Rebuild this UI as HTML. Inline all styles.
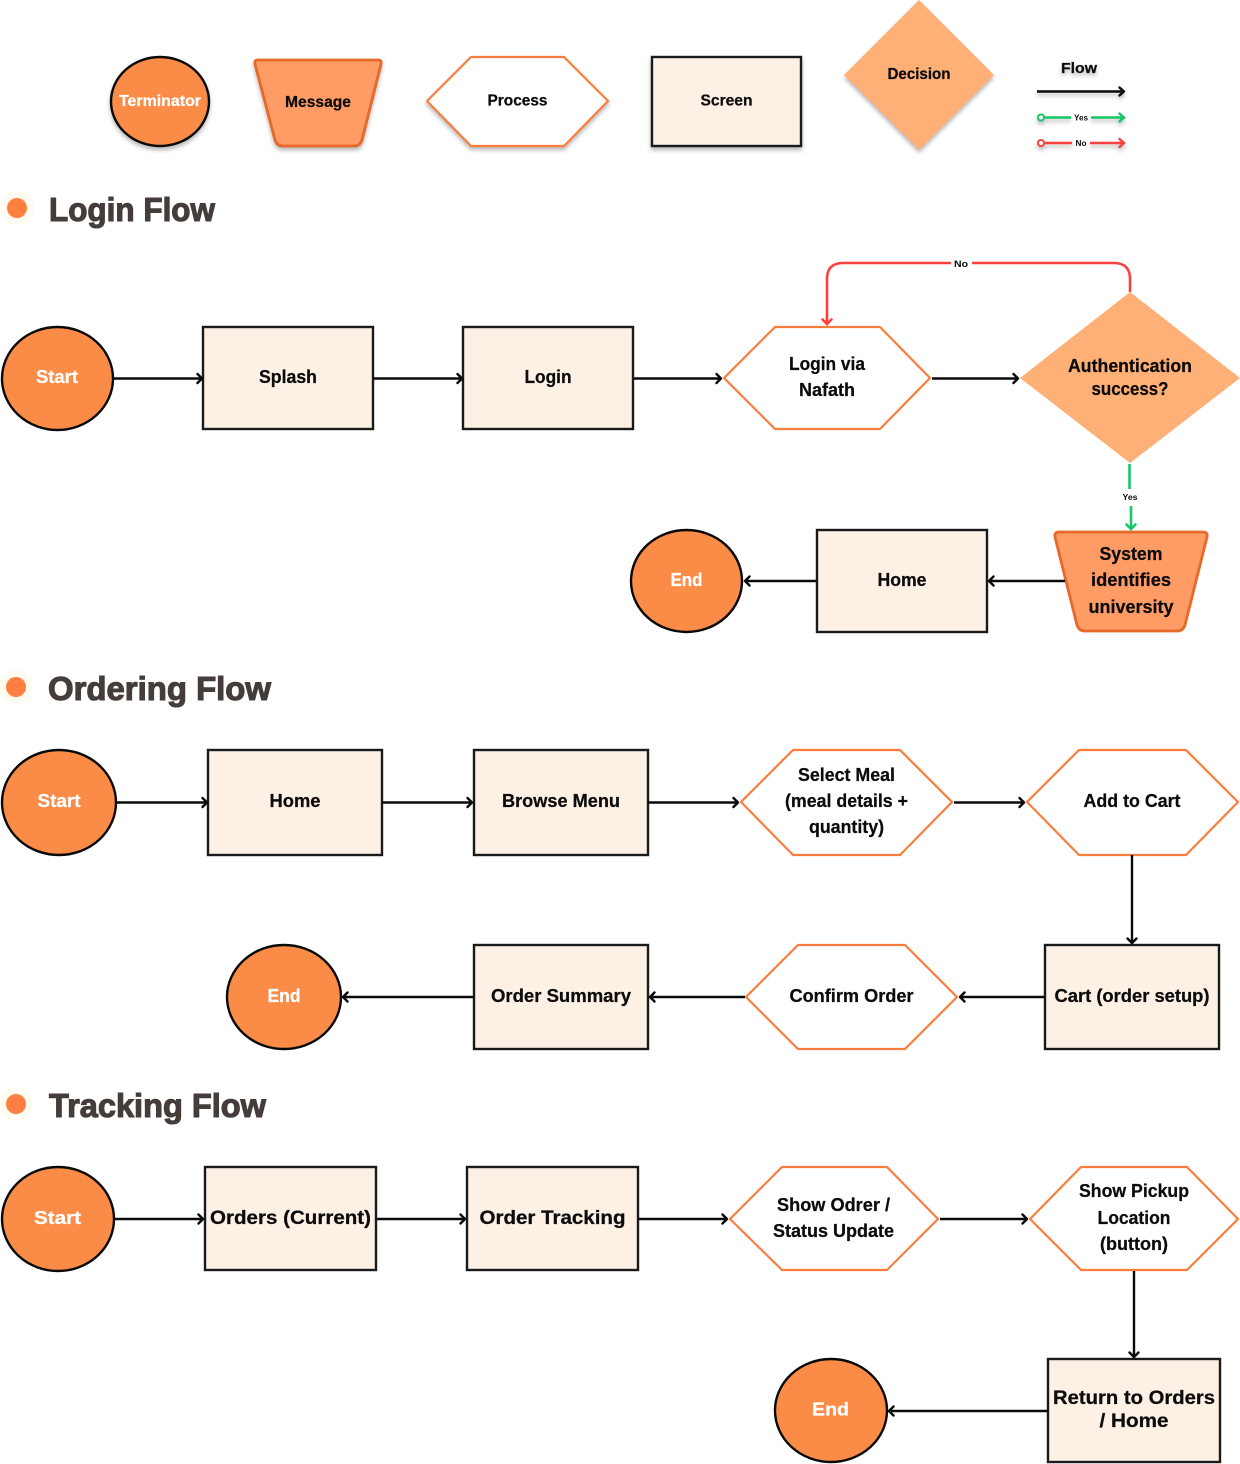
<!DOCTYPE html>
<html lang="en">
<head>
<meta charset="utf-8">
<title>User Flows</title>
<style>
html,body{margin:0;padding:0;background:#fff;}
svg{display:block;}
text{font-family:"Liberation Sans",sans-serif;font-weight:700;fill:#0c0c0c;text-anchor:middle;font-size:18px;stroke:#0c0c0c;stroke-width:.25px;}
.w{fill:#fff;stroke:#fff;}
.h{fill:#443d3a;stroke:#443d3a;stroke-width:1.1px;text-anchor:start;font-size:33px;}
.s{fill:#fdf0e4;stroke:#1a1a1a;stroke-width:2.4;}
.t{fill:#fa8c47;stroke:#0a0a0a;stroke-width:2.4;}
.p{fill:#fff;stroke:#fb7d3c;stroke-width:2.2;stroke-linejoin:round;}
.m{fill:#ff9c66;stroke:#e8682a;stroke-width:2.8;stroke-linejoin:round;}
.d{fill:#ffb077;}
.a{fill:none;stroke:#0a0a0a;stroke-width:2.4;}
.ah{fill:none;stroke:#0a0a0a;stroke-width:2.4;stroke-linecap:round;stroke-linejoin:round;}
.g{fill:none;stroke:#17c767;stroke-width:2.6;}
.r{fill:none;stroke:#fb4040;stroke-width:2.6;}
.halo{fill:#fffbf0;}
.dot{fill:#ff7f41;}
.sh{filter:drop-shadow(0 3px 2px rgba(0,0,0,.28));}
</style>
</head>
<body>
<svg width="1240" height="1464" viewBox="0 0 1240 1464" xmlns="http://www.w3.org/2000/svg">
<rect width="1240" height="1464" fill="#fff"/>

<!-- Legend -->
<g class="sh">
<ellipse class="t" cx="160" cy="101.500" rx="49" ry="44.500"/>
<path class="m" d="M258 60H378Q382 60 381 64L362 140Q360 146 354 146H283Q277 146 275 140L255 64Q254 60 258 60Z"/>
<polygon class="p" points="427,101 471,57 564,57 608,101 564,146 471,146"/>
<rect class="s" x="652" y="57" width="149" height="89"/>
<polygon class="d" points="919,0 994,75 919,150 844,75"/>
<text x="1079" y="73" style="font-size:15px" textLength="36" lengthAdjust="spacingAndGlyphs">Flow</text>
<path class="a" d="M1037 91.500H1123"/><path class="ah" d="M1119.500 87.500L1124 91.500L1119.500 95.500"/>
<circle cx="1041" cy="117.500" r="3" fill="#fff" stroke="#17c767" stroke-width="2"/>
<path class="g" d="M1044 117.500H1071M1091 117.500H1123"/>
<path d="M1119.500 113.500L1124 117.500L1119.500 121.500" fill="none" stroke="#17c767" stroke-width="2.400" stroke-linecap="round"/>
<circle cx="1041" cy="143" r="3" fill="#fff" stroke="#fb4040" stroke-width="2"/>
<path class="r" d="M1044 143H1072M1090 143H1123"/>
<path d="M1119.500 139L1124 143L1119.500 147" fill="none" stroke="#fb4040" stroke-width="2.400" stroke-linecap="round"/>
</g>
<text class="w" x="160" y="106" style="font-size:16px" textLength="82" lengthAdjust="spacingAndGlyphs">Terminator</text>
<text x="318" y="107" style="font-size:16px" textLength="66" lengthAdjust="spacingAndGlyphs">Message</text>
<text x="517.500" y="105.500" style="font-size:16px" textLength="60" lengthAdjust="spacingAndGlyphs">Process</text>
<text x="726.500" y="105.500" style="font-size:16px" textLength="52" lengthAdjust="spacingAndGlyphs">Screen</text>
<text x="919" y="79" style="font-size:16px" textLength="63" lengthAdjust="spacingAndGlyphs">Decision</text>
<text x="1081" y="120.500" style="font-size:8px;stroke-width:0" textLength="14" lengthAdjust="spacingAndGlyphs">Yes</text>
<text x="1081" y="146" style="font-size:8px;stroke-width:0" textLength="11" lengthAdjust="spacingAndGlyphs">No</text>

<!-- Login Flow heading -->
<circle class="halo" cx="17" cy="208" r="17"/><circle class="dot" cx="17" cy="208" r="10"/>
<text class="h" x="49" y="221" textLength="166" lengthAdjust="spacingAndGlyphs">Login Flow</text>

<!-- Login Flow -->
<ellipse class="t" cx="57.500" cy="378.500" rx="55.500" ry="51.500"/>
<text class="w" x="57" y="383" textLength="42" lengthAdjust="spacingAndGlyphs">Start</text>
<rect class="s" x="203" y="327" width="170" height="102"/>
<text x="288" y="383" textLength="58" lengthAdjust="spacingAndGlyphs">Splash</text>
<rect class="s" x="463" y="327" width="170" height="102"/>
<text x="548" y="383" textLength="47" lengthAdjust="spacingAndGlyphs">Login</text>
<polygon class="p" points="724,378 775,327 880,327 930,378 880,429 775,429"/>
<text x="827" y="370" textLength="76" lengthAdjust="spacingAndGlyphs">Login via</text>
<text x="827" y="396" textLength="56" lengthAdjust="spacingAndGlyphs">Nafath</text>
<polygon class="d" points="1130,292 1240,378 1130,463 1020,378"/>
<text x="1130" y="372" textLength="124" lengthAdjust="spacingAndGlyphs">Authentication</text>
<text x="1130" y="395" textLength="77" lengthAdjust="spacingAndGlyphs">success?</text>
<path class="m" d="M1059 532H1203Q1208 532 1207 537L1185 625Q1183 631 1177 631H1085Q1079 631 1077 625L1055 537Q1054 532 1059 532Z"/>
<text x="1131" y="560" textLength="63" lengthAdjust="spacingAndGlyphs">System</text>
<text x="1131" y="586" textLength="80" lengthAdjust="spacingAndGlyphs">identifies</text>
<text x="1131" y="613" textLength="85" lengthAdjust="spacingAndGlyphs">university</text>
<rect class="s" x="817" y="530" width="170" height="102"/>
<text x="902" y="586" textLength="49" lengthAdjust="spacingAndGlyphs">Home</text>
<ellipse class="t" cx="686.500" cy="581" rx="55.500" ry="51"/>
<text class="w" x="686.500" y="586" textLength="32" lengthAdjust="spacingAndGlyphs">End</text>

<path class="a" d="M114 378.500H201M373 378.500H461M634 378.500H720M932 378.500H1017M1065 581H990M817 581H746"/>
<path class="ah" d="M197.500 374L202 378.500L197.500 383M457.500 374L462 378.500L457.500 383M716.500 374L721 378.500L716.500 383M1013.500 374L1018 378.500L1013.500 383M993.500 576.500L989 581L993.500 585.500M749.500 576.500L745 581L749.500 585.500"/>
<path class="r" d="M1130 292V279Q1130 263 1114 263H972M951 263H843Q827 263 827 279V324"/>
<path d="M822.500 319.500L827 324L831.500 319.500" fill="none" stroke="#fb4040" stroke-width="2.600" stroke-linecap="round"/>
<text x="961" y="267" style="font-size:9.500px;stroke-width:0" textLength="14" lengthAdjust="spacingAndGlyphs">No</text>
<path class="g" d="M1129.500 464V489M1131 506V529"/>
<path d="M1126.500 524.500L1131 529L1135.500 524.500" fill="none" stroke="#17c767" stroke-width="2.600" stroke-linecap="round"/>
<text x="1130" y="500" style="font-size:8.500px;stroke-width:0" textLength="15" lengthAdjust="spacingAndGlyphs">Yes</text>

<!-- Ordering Flow heading -->
<circle class="halo" cx="16" cy="687" r="17"/><circle class="dot" cx="16" cy="687" r="10"/>
<text class="h" x="48" y="700" textLength="223" lengthAdjust="spacingAndGlyphs">Ordering Flow</text>

<!-- Ordering Flow -->
<ellipse class="t" cx="59" cy="802.500" rx="57" ry="52.500"/>
<text class="w" x="59" y="807" textLength="43" lengthAdjust="spacingAndGlyphs">Start</text>
<rect class="s" x="208" y="750" width="174" height="105"/>
<text x="295" y="807" textLength="51" lengthAdjust="spacingAndGlyphs">Home</text>
<rect class="s" x="474" y="750" width="174" height="105"/>
<text x="561" y="807" textLength="118" lengthAdjust="spacingAndGlyphs">Browse Menu</text>
<polygon class="p" points="741,802 793,750 900,750 952,802 900,855 793,855"/>
<text x="846.500" y="781" textLength="97" lengthAdjust="spacingAndGlyphs">Select Meal</text>
<text x="846.500" y="807" textLength="123" lengthAdjust="spacingAndGlyphs">(meal details +</text>
<text x="846.500" y="833" textLength="75" lengthAdjust="spacingAndGlyphs">quantity)</text>
<polygon class="p" points="1027,802 1079,750 1186,750 1238,802 1186,855 1079,855"/>
<text x="1132" y="807" textLength="97" lengthAdjust="spacingAndGlyphs">Add to Cart</text>
<rect class="s" x="1045" y="945" width="174" height="104"/>
<text x="1132" y="1002" textLength="155" lengthAdjust="spacingAndGlyphs">Cart (order setup)</text>
<polygon class="p" points="746,997 798,945 905,945 957,997 905,1049 798,1049"/>
<text x="851.500" y="1002" textLength="124" lengthAdjust="spacingAndGlyphs">Confirm Order</text>
<rect class="s" x="474" y="945" width="174" height="104"/>
<text x="561" y="1002" textLength="140" lengthAdjust="spacingAndGlyphs">Order Summary</text>
<ellipse class="t" cx="284" cy="997" rx="57" ry="52"/>
<text class="w" x="284" y="1002" textLength="33" lengthAdjust="spacingAndGlyphs">End</text>

<path class="a" d="M117 802.500H206M382 802.500H471M648 802.500H737M954 802.500H1023M1132 855V942M1045 997H961M745 997H651M474 997H344"/>
<path class="ah" d="M202.500 798L207 802.500L202.500 807M467.500 798L472 802.500L467.500 807M733.500 798L738 802.500L733.500 807M1019.500 798L1024 802.500L1019.500 807M1127.500 938.500L1132 943L1136.500 938.500M964.500 992.500L960 997L964.500 1001.500M654.500 992.500L650 997L654.500 1001.500M347.500 992.500L343 997L347.500 1001.500"/>

<!-- Tracking Flow heading -->
<circle class="halo" cx="16" cy="1104" r="17"/><circle class="dot" cx="16" cy="1104" r="10"/>
<text class="h" x="49" y="1117" textLength="217" lengthAdjust="spacingAndGlyphs">Tracking Flow</text>

<!-- Tracking Flow -->
<ellipse class="t" cx="58" cy="1219" rx="56" ry="52"/>
<text class="w" x="57.500" y="1224" textLength="47" lengthAdjust="spacingAndGlyphs">Start</text>
<rect class="s" x="205" y="1167" width="171" height="103"/>
<text x="290.500" y="1224" style="font-size:19px" textLength="161" lengthAdjust="spacingAndGlyphs">Orders (Current)</text>
<rect class="s" x="467" y="1167" width="171" height="103"/>
<text x="552.500" y="1224" style="font-size:19px" textLength="146" lengthAdjust="spacingAndGlyphs">Order Tracking</text>
<polygon class="p" points="730,1219 782,1167 887,1167 938,1219 887,1270 782,1270"/>
<text x="833.500" y="1211" textLength="113" lengthAdjust="spacingAndGlyphs">Show Odrer /</text>
<text x="833.500" y="1237" textLength="121" lengthAdjust="spacingAndGlyphs">Status Update</text>
<polygon class="p" points="1030,1219 1081,1167 1187,1167 1238,1219 1187,1270 1081,1270"/>
<text x="1134" y="1197" textLength="110" lengthAdjust="spacingAndGlyphs">Show Pickup</text>
<text x="1134" y="1224" textLength="73" lengthAdjust="spacingAndGlyphs">Location</text>
<text x="1134" y="1250" textLength="68" lengthAdjust="spacingAndGlyphs">(button)</text>
<rect class="s" x="1048" y="1359" width="172" height="103"/>
<text x="1134" y="1404" style="font-size:19px" textLength="162" lengthAdjust="spacingAndGlyphs">Return to Orders</text>
<text x="1134" y="1427" style="font-size:19px" textLength="69" lengthAdjust="spacingAndGlyphs">/ Home</text>
<ellipse class="t" cx="831" cy="1410.500" rx="56" ry="51.500"/>
<text class="w" x="830.500" y="1415.500" textLength="37" lengthAdjust="spacingAndGlyphs">End</text>

<path class="a" d="M115 1219H202M377 1219H464M639 1219H726M940 1219H1026M1134 1271V1356M1048 1411H891"/>
<path class="ah" d="M198.500 1214.500L203 1219L198.500 1223.500M460.500 1214.500L465 1219L460.500 1223.500M722.500 1214.500L727 1219L722.500 1223.500M1022.500 1214.500L1027 1219L1022.500 1223.500M1129.500 1352.500L1134 1357L1138.500 1352.500M893.500 1406.500L889 1411L893.500 1415.500"/>
</svg>
</body>
</html>
